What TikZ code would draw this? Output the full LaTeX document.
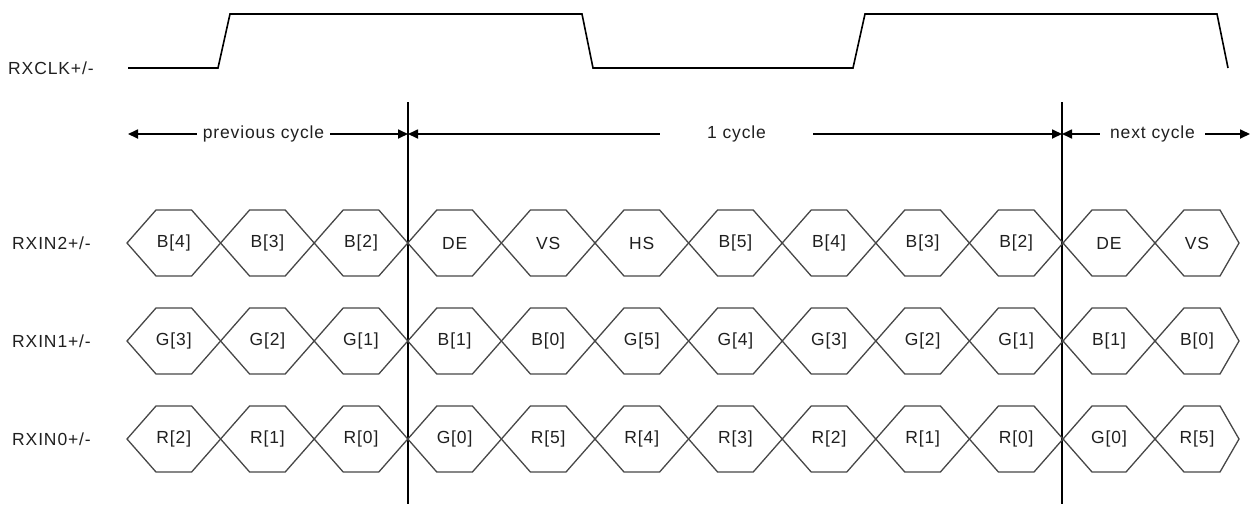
\documentclass[tikz,border=0pt]{standalone}
\usepackage{fontspec}
\setmainfont[LetterSpace=5]{Liberation Sans}
\usetikzlibrary{arrows.meta}
\newcommand\hexcell[7]{% xa, flat-left, flat-right, xb, yc, name, text
  \draw[cellline] (#1,#5) -- (#2,#5-33) -- (#3,#5-33) -- (#4,#5) -- (#3,#5+33) -- (#2,#5+33) -- cycle;
  \node[celltext] (#6) at ({(#1+#4)/2},#5) {#7};}
\begin{document}
\begin{tikzpicture}[x=1pt,y=-1pt,
  lbl/.style={anchor=west,inner sep=0pt,font=\fontsize{17.5}{20}\selectfont,text=black!88},
  cellline/.style={draw=black!72,line width=1.3pt,line join=miter},
  celltext/.style={inner sep=0pt,font=\fontsize{17.5}{20}\selectfont,text=black!88},
  clk/.style={draw=black,line width=1.6pt,line join=miter},
  divline/.style={draw=black,line width=1.6pt},
  dimarr/.style={draw=black,line width=1.7pt,-{Triangle[length=10pt,width=9pt]}},
  dimtext/.style={inner sep=0pt,font=\fontsize{17.5}{20}\selectfont,text=black!88}
]
\useasboundingbox (0,0) rectangle (1252,504);

% signal labels
\node[lbl] (lclk) at (8,68) {RXCLK+/-};
\node[lbl] (lin2) at (12,243) {RXIN2+/-};
\node[lbl] (lin1) at (12,341) {RXIN1+/-};
\node[lbl] (lin0) at (12,439) {RXIN0+/-};

% clock waveform
\draw[clk] (128,68) -- (218,68) -- (230,14) -- (582,14) -- (593,68) -- (853,68) -- (865,14) -- (1217,14) -- (1228,68);

% cycle boundaries
\coordinate (v1t) at (408,102);
\coordinate (v1b) at (408,504);
\coordinate (v2t) at (1062,102);
\coordinate (v2b) at (1062,504);
\draw[divline] (v1t) -- (v1b);
\draw[divline] (v2t) -- (v2b);

% cycle dimension arrows
\coordinate (a0) at (128,134);
\coordinate (a1) at (408,134);
\coordinate (a2) at (1062,134);
\coordinate (a3) at (1250,134);
\node[dimtext,minimum width=133pt] (prev) at (263.5,134) {previous cycle};
\node[dimtext,minimum width=153pt] (one) at (736.5,134) {1\,\,cycle};
\node[dimtext,minimum width=105pt] (next) at (1152.5,134) {next cycle};
\draw[dimarr] (prev.west) -- (a0);
\draw[dimarr] (prev.east) -- (a1);
\draw[dimarr] (one.west) -- (a1);
\draw[dimarr] (one.east) -- (a2);
\draw[dimarr] (next.west) -- (a2);
\draw[dimarr] (next.east) -- (a3);

% data rows
\foreach \row/\yc/\labs/\la/\lb in {
  2/243/{{B[4]},{B[3]},{B[2]},{DE},{VS},{HS},{B[5]},{B[4]},{B[3]},{B[2]}}/DE/VS,
  1/341/{{G[3]},{G[2]},{G[1]},{B[1]},{B[0]},{G[5]},{G[4]},{G[3]},{G[2]},{G[1]}}/B[1]/B[0],
  0/439/{{R[2]},{R[1]},{R[0]},{G[0]},{R[5]},{R[4]},{R[3]},{R[2]},{R[1]},{R[0]}}/G[0]/R[5]}{
  \foreach \t [count=\k from 0] in \labs {
    \pgfmathsetmacro\xa{127+93.6*\k}
    \pgfmathsetmacro\fl{\xa+29}
    \pgfmathsetmacro\fr{\xa+93.6-29}
    \pgfmathsetmacro\xb{\xa+93.6}
    \hexcell{\xa}{\fl}{\fr}{\xb}{\yc}{c\row-\k}{\t}
  }
  \hexcell{1063}{1092}{1126}{1155}{\yc}{c\row-10}{\la}
  \hexcell{1155}{1184}{1220}{1239}{\yc}{c\row-11}{\lb}
}
\end{tikzpicture}
\end{document}
